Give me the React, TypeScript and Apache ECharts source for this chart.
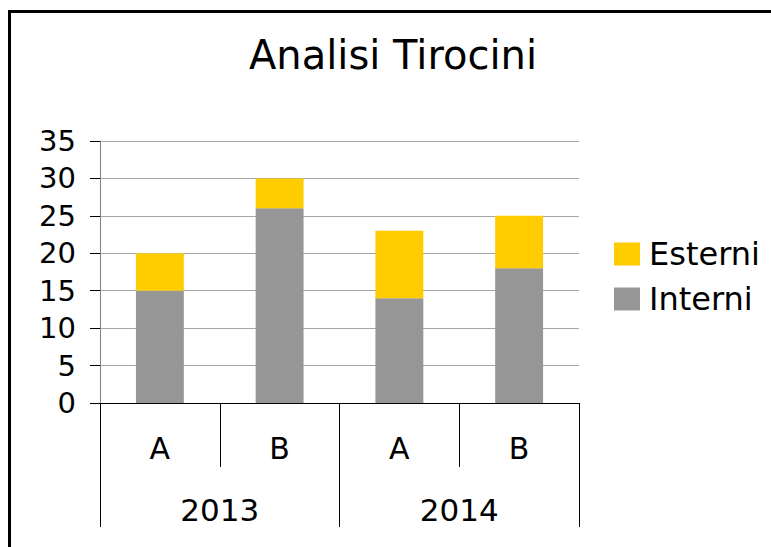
import React, { useEffect, useRef } from "react";
import * as echarts from "echarts";

const subCategories = ["A", "B", "A", "B"];
const years = ["2013", "2014"];
const interni = [15, 26, 14, 18];
const esterni = [5, 4, 9, 7];
const seriesNames = ["Esterni", "Interni"];
const yTicks = { min: 0, max: 35, interval: 5 };

const FONT = "DejaVu Sans";

export default function App() {
  const ref = useRef<HTMLDivElement>(null);
  useEffect(() => {
    document.body.style.margin = "0";
    const chart = echarts.init(ref.current!, null, { renderer: "svg" });
    chart.setOption({
      animation: false,
      backgroundColor: "#ffffff",
      textStyle: { fontFamily: FONT, color: "#000" },
      title: {
        text: "Analisi Tirocini",
        left: 244,
        top: 30,
        textStyle: { fontFamily: FONT, fontSize: 40, fontWeight: "normal", color: "#000" },
      },
      legend: {
        data: seriesNames,
        orient: "vertical",
        left: 614,
        top: 238,
        padding: 0,
        itemWidth: 26,
        itemHeight: 23,
        itemGap: 13,
        icon: "rect",
        textStyle: { fontFamily: FONT, fontSize: 32, color: "#000", lineHeight: 23, padding: [0, 0, 0, 4] },
      },
      grid: { left: 100, right: 192, top: 141, bottom: 144, containLabel: false },
      xAxis: [
        {
          type: "category",
          data: subCategories,
          position: "bottom",
          axisLine: { show: true, lineStyle: { color: "#000", width: 1 } },
          axisTick: { show: true, length: 64, lineStyle: { color: "#000" } },
          axisLabel: { fontFamily: FONT, fontSize: 30, color: "#000", margin: 45, verticalAlign: "middle" },
        },
        {
          type: "category",
          data: years,
          position: "bottom",
          offset: 0,
          axisLine: { show: false },
          axisTick: { show: true, length: 124, lineStyle: { color: "#000" } },
          axisLabel: { fontFamily: FONT, fontSize: 31, color: "#000", margin: 107, verticalAlign: "middle" },
        },
      ],
      yAxis: {
        type: "value",
        min: yTicks.min,
        max: yTicks.max,
        interval: yTicks.interval,
        axisLine: { show: true, lineStyle: { color: "#808080" } },
        axisTick: { show: true, length: 10, lineStyle: { color: "#000" } },
        axisLabel: { fontFamily: FONT, fontSize: 29, color: "#000", margin: 24 },
        splitLine: { show: true, lineStyle: { color: "#a6a6a6", width: 1 } },
      },
      series: [
        {
          name: "Interni",
          type: "bar",
          stack: "tot",
          data: interni,
          barWidth: "40%",
          itemStyle: { color: "#969696" },
        },
        {
          name: "Esterni",
          type: "bar",
          stack: "tot",
          data: esterni,
          barWidth: "40%",
          itemStyle: { color: "#FFCC00" },
        },
      ],
      graphic: [
        {
          type: "rect",
          shape: { x: 9.5, y: 11.5, width: 800, height: 600 },
          style: { fill: "none", stroke: "#000", lineWidth: 3 },
          silent: true,
        },
      ],
    });
    return () => chart.dispose();
  }, []);
  return <div ref={ref} style={{ width: 771, height: 547 }} />;
}
